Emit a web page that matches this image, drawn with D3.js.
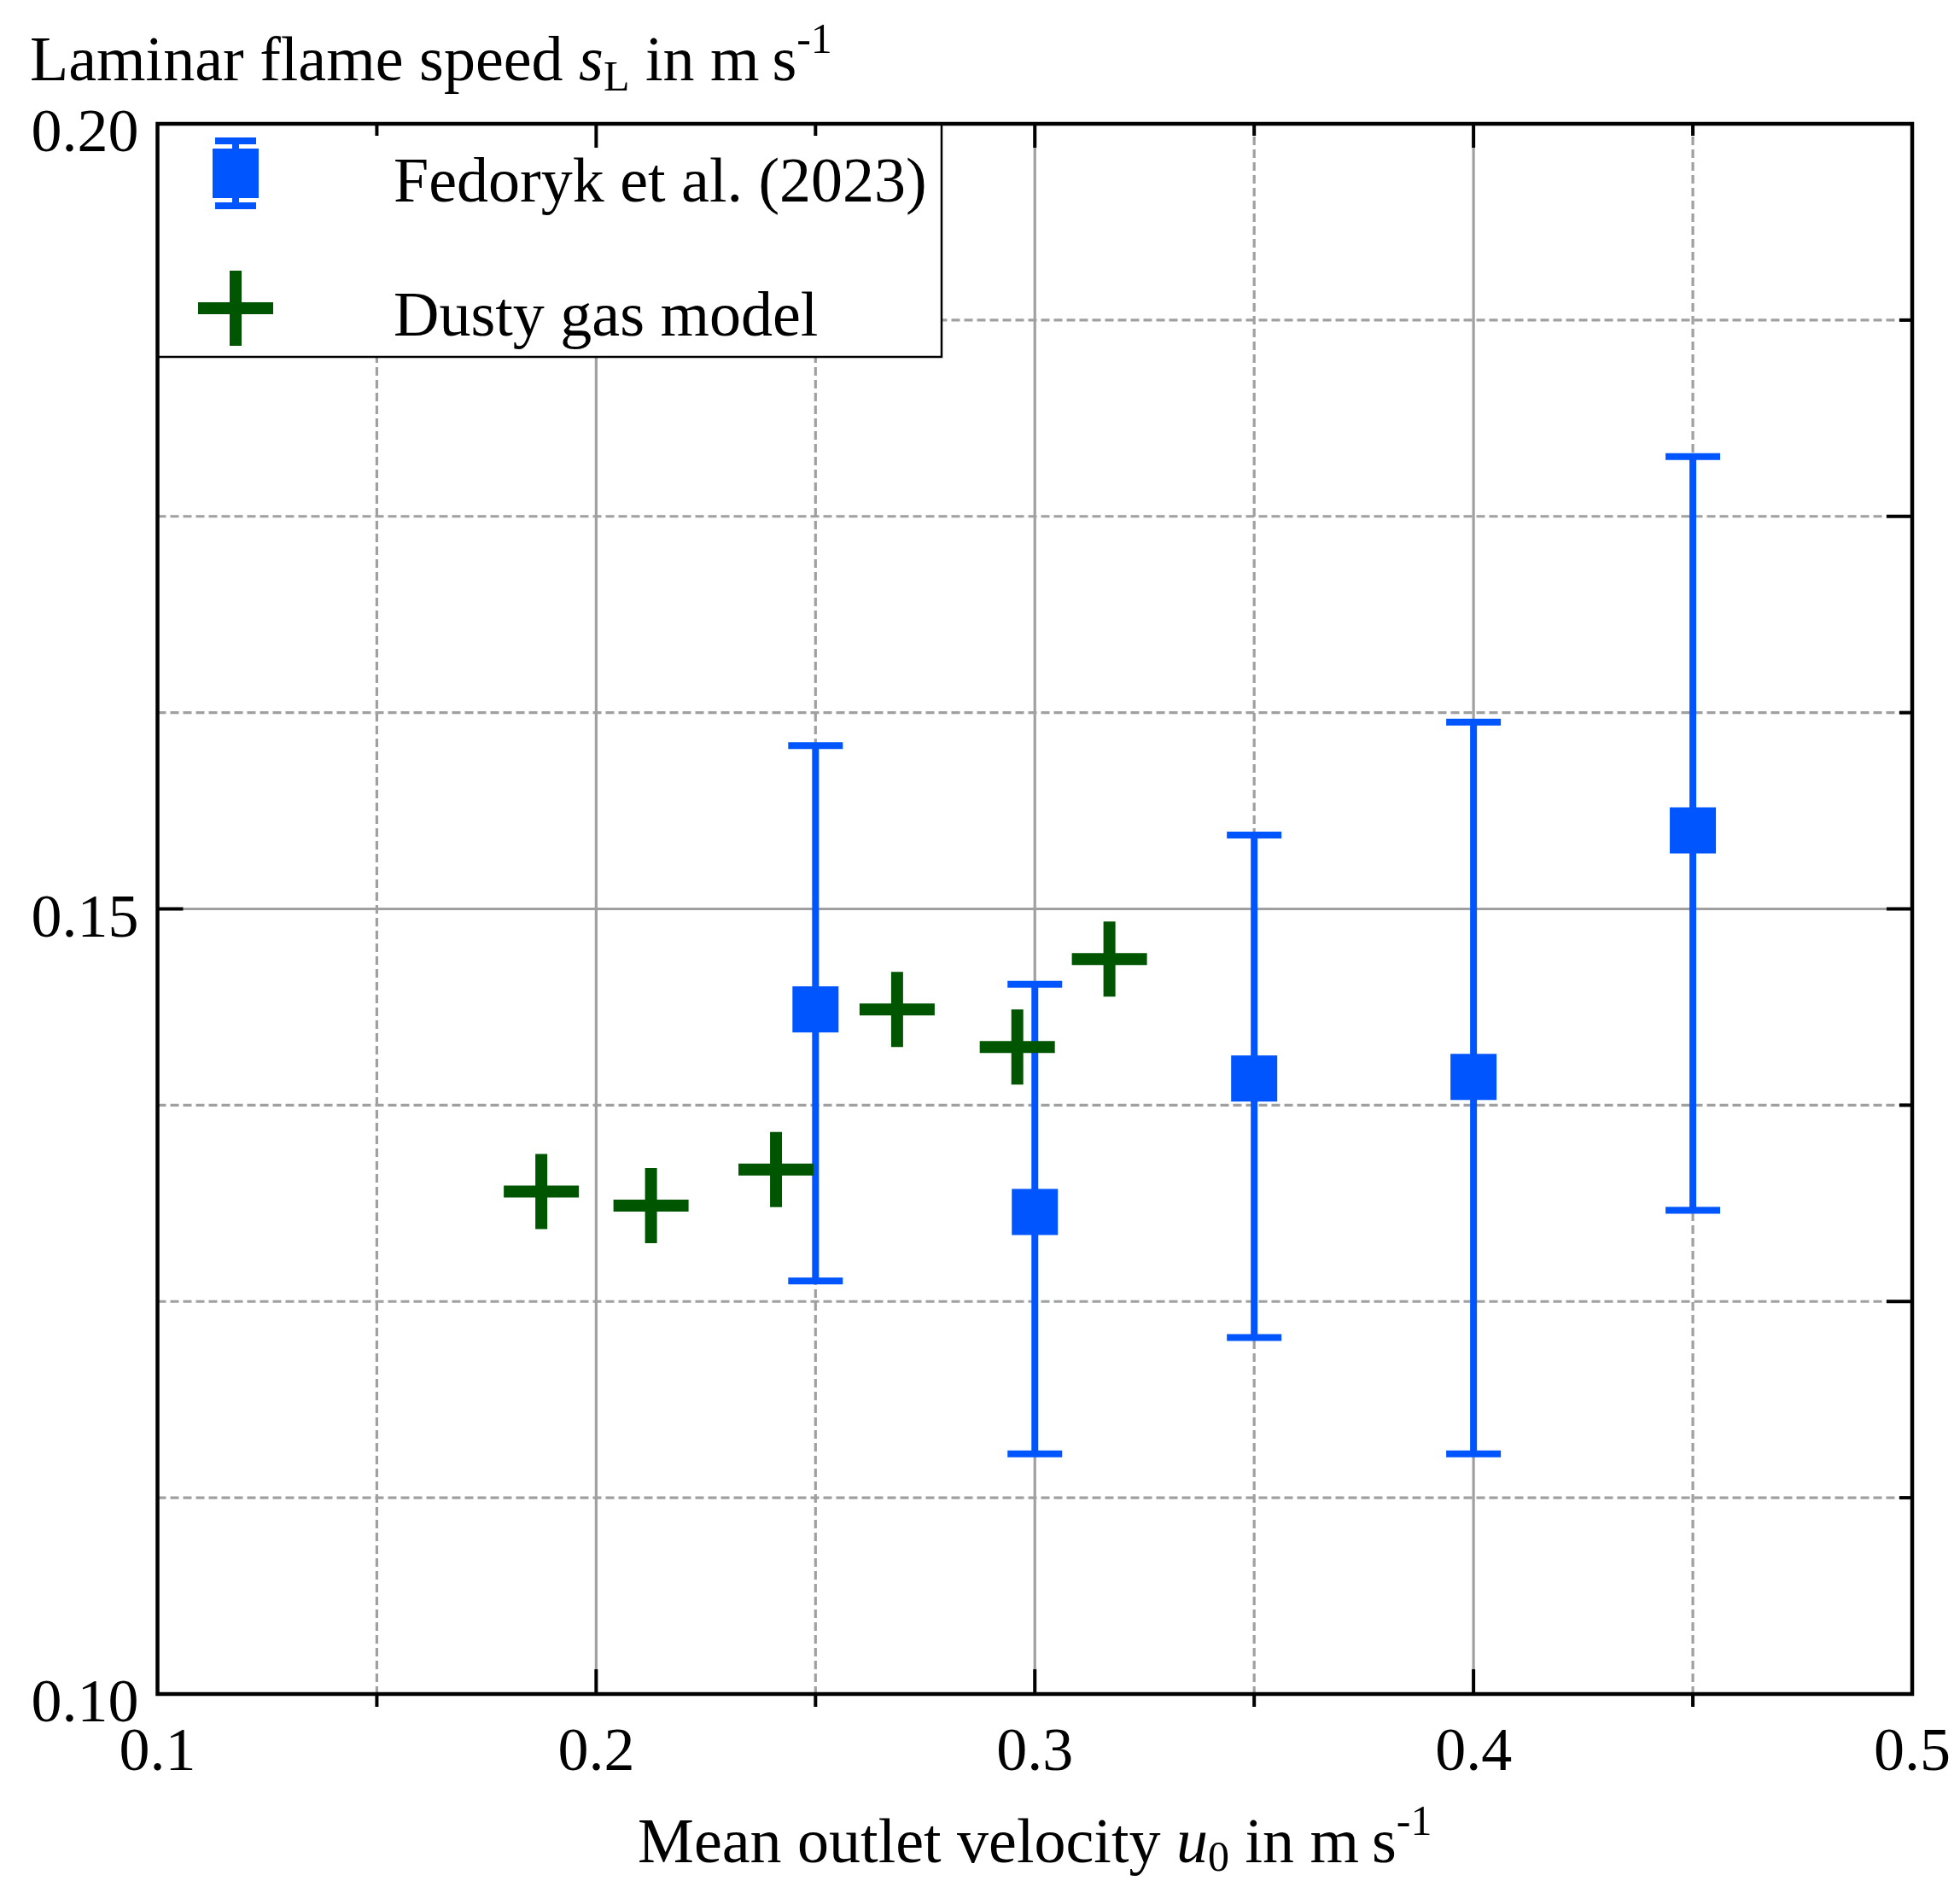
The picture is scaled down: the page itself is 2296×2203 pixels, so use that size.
<!DOCTYPE html>
<html>
<head>
<meta charset="utf-8">
<script src="https://cdn.jsdelivr.net/npm/d3@7"></script>
<style>
  html, body { margin: 0; padding: 0; background: #ffffff; }
  svg { display: block; }
  text { font-family: "Liberation Serif", "Times New Roman", serif; fill: #000; }
</style>
</head>
<body>
<script>
// ---- data ----
const expX = [0.25, 0.30, 0.35, 0.40, 0.45];
const expY = [0.1436, 0.1307, 0.1392, 0.1393, 0.1550];
const expLow = [0.1263, 0.1153, 0.1227, 0.1153, 0.1308];
const expHigh = [0.1604, 0.1452, 0.1547, 0.1619, 0.1788];

const modelX = [0.1875, 0.2125, 0.2410, 0.2686, 0.2960, 0.3170];
const modelY = [0.1320, 0.1311, 0.1334, 0.1436, 0.1412, 0.1468];

const xTickValues = [0.1, 0.2, 0.3, 0.4, 0.5];
const xTickLabels = ["0.1", "0.2", "0.3", "0.4", "0.5"];
const xMinorValues = [0.15, 0.25, 0.35, 0.45];
const yTickValues = [0.10, 0.15, 0.20];
const yTickLabels = ["0.10", "0.15", "0.20"];
const yMinorValues = [0.1125, 0.125, 0.1375, 0.1625, 0.175, 0.1875];

const legendLabels = ["Fedoryk et al. (2023)", "Dusty gas model"];

// ---- layout ----
const W = 2296, H = 2203;
const L = 184.5, R = 2240, T = 145, B = 1984;
const blue = "#0055ff", green = "#005500", gridCol = "#a0a0a0";
const fs = 72, fsT = 74, fsS = 50;

const x = d3.scaleLinear().domain([0.1, 0.5]).range([L, R]);
const y = d3.scaleLinear().domain([0.10, 0.20]).range([B, T]);

const svg = d3.select("body").append("svg").attr("width", W).attr("height", H);

// ---- grid ----
const grid = svg.append("g");
const xGridAll = xTickValues.slice(1, -1).map(v => ({v, major: true}))
  .concat(xMinorValues.map(v => ({v, major: false})));
grid.selectAll("line.gx").data(xGridAll).join("line")
  .attr("x1", d => x(d.v)).attr("x2", d => x(d.v))
  .attr("y1", T).attr("y2", B)
  .attr("stroke", gridCol).attr("stroke-width", 3.2)
  .attr("stroke-dasharray", d => d.major ? null : "10,5");
const yGridAll = [{v: 0.15, major: true}].concat(yMinorValues.map(v => ({v, major: false})));
grid.selectAll("line.gy").data(yGridAll).join("line")
  .attr("x1", L).attr("x2", R)
  .attr("y1", d => y(d.v)).attr("y2", d => y(d.v))
  .attr("stroke", gridCol).attr("stroke-width", 3.2)
  .attr("stroke-dasharray", d => d.major ? null : "10,5");

// ---- experimental data with error bars ----
const exp = expX.map((v, i) => ({x: v, y: expY[i], lo: expLow[i], hi: expHigh[i]}));
const capW = 64, sq = 54;
const eg = svg.append("g");
eg.selectAll("line.eb").data(exp).join("line")
  .attr("x1", d => x(d.x)).attr("x2", d => x(d.x))
  .attr("y1", d => y(d.lo)).attr("y2", d => y(d.hi))
  .attr("stroke", blue).attr("stroke-width", 8);
eg.selectAll("line.capH").data(exp).join("line")
  .attr("x1", d => x(d.x) - capW / 2).attr("x2", d => x(d.x) + capW / 2)
  .attr("y1", d => y(d.hi)).attr("y2", d => y(d.hi))
  .attr("stroke", blue).attr("stroke-width", 8);
eg.selectAll("line.capL").data(exp).join("line")
  .attr("x1", d => x(d.x) - capW / 2).attr("x2", d => x(d.x) + capW / 2)
  .attr("y1", d => y(d.lo)).attr("y2", d => y(d.lo))
  .attr("stroke", blue).attr("stroke-width", 8);
eg.selectAll("rect").data(exp).join("rect")
  .attr("x", d => x(d.x) - sq / 2).attr("y", d => y(d.y) - sq / 2)
  .attr("width", sq).attr("height", sq).attr("fill", blue);

// ---- model crosses ----
const mod = modelX.map((v, i) => ({x: v, y: modelY[i]}));
const arm = 44, thick = 14;
const mg = svg.append("g");
mg.selectAll("path").data(mod).join("path")
  .attr("d", d => {
    const cx = x(d.x), cy = y(d.y);
    return `M${cx - arm},${cy}H${cx + arm}M${cx},${cy - arm}V${cy + arm}`;
  })
  .attr("stroke", green).attr("stroke-width", thick).attr("fill", "none");

// ---- legend ----
const lg = svg.append("g");
const legR = 1103, legB = 418;
lg.append("rect").attr("x", L).attr("y", T).attr("width", legR - L).attr("height", legB - T)
  .attr("fill", "#fff").attr("stroke", "#000").attr("stroke-width", 2.5);
const lsx = 276, l1y = 203, l2y = 361;
lg.append("line").attr("x1", lsx).attr("x2", lsx).attr("y1", l1y - 38).attr("y2", l1y + 38)
  .attr("stroke", blue).attr("stroke-width", 8);
[l1y - 38, l1y + 38].forEach(cy => lg.append("line")
  .attr("x1", lsx - 24).attr("x2", lsx + 24).attr("y1", cy).attr("y2", cy)
  .attr("stroke", blue).attr("stroke-width", 8));
lg.append("rect").attr("x", lsx - 27).attr("y", l1y - 29).attr("width", 54).attr("height", 58).attr("fill", blue);
lg.append("path").attr("d", `M${lsx - arm},${l2y}H${lsx + arm}M${lsx},${l2y - arm}V${l2y + arm}`)
  .attr("stroke", green).attr("stroke-width", thick);
lg.append("text").attr("x", 461).attr("y", 236).attr("font-size", fsT).text(legendLabels[0]);
lg.append("text").attr("x", 461).attr("y", 393).attr("font-size", fsT).text(legendLabels[1]);

// ---- axes frame and ticks ----
const ax = svg.append("g");
ax.append("rect").attr("x", L).attr("y", T).attr("width", R - L).attr("height", B - T)
  .attr("fill", "none").attr("stroke", "#000").attr("stroke-width", 4.5);
ax.selectAll("line.bM").data(xTickValues.slice(1, -1)).join("line")
  .attr("x1", d => x(d)).attr("x2", d => x(d)).attr("y1", B).attr("y2", B - 29)
  .attr("stroke", "#000").attr("stroke-width", 4);
ax.selectAll("line.bm").data(xMinorValues).join("line")
  .attr("x1", d => x(d)).attr("x2", d => x(d)).attr("y1", B).attr("y2", B + 15)
  .attr("stroke", "#000").attr("stroke-width", 4);
ax.selectAll("line.tM").data(xTickValues.slice(1, -1)).join("line")
  .attr("x1", d => x(d)).attr("x2", d => x(d)).attr("y1", T).attr("y2", T + 28)
  .attr("stroke", "#000").attr("stroke-width", 4);
ax.selectAll("line.tm").data(xMinorValues).join("line")
  .attr("x1", d => x(d)).attr("x2", d => x(d)).attr("y1", T).attr("y2", T + 14)
  .attr("stroke", "#000").attr("stroke-width", 4);
ax.selectAll("line.lM").data([0.15]).join("line")
  .attr("x1", L).attr("x2", L + 30).attr("y1", d => y(d)).attr("y2", d => y(d))
  .attr("stroke", "#000").attr("stroke-width", 4);
const rightTicks = [0.15].concat(yMinorValues);
ax.selectAll("line.rt").data(rightTicks).join("line")
  .attr("x1", R).attr("x2", d => R - (Math.abs(Math.round(d / 0.025) * 0.025 - d) < 1e-6 ? 30 : 15))
  .attr("y1", d => y(d)).attr("y2", d => y(d))
  .attr("stroke", "#000").attr("stroke-width", 4);

// tick labels
ax.selectAll("text.xl").data(xTickValues).join("text")
  .attr("x", d => x(d)).attr("y", B + 89).attr("text-anchor", "middle")
  .attr("font-size", fs).text((d, i) => xTickLabels[i]);
ax.selectAll("text.yl").data(yTickValues).join("text")
  .attr("x", L - 22).attr("y", d => y(d) + 32).attr("text-anchor", "end")
  .attr("font-size", fs).text((d, i) => yTickLabels[i]);

// axis titles
const yt = svg.append("text").attr("x", 35).attr("y", 94).attr("font-size", fsT);
yt.append("tspan").text("Laminar flame speed ");
yt.append("tspan").attr("font-style", "italic").text("s");
yt.append("tspan").attr("font-size", fsS).attr("dy", 12).text("L");
yt.append("tspan").attr("dy", -12).text(" in m\u2009s");
yt.append("tspan").attr("font-size", fsS).attr("dy", -32).text("-1");

const xt = svg.append("text").attr("x", (L + R) / 2).attr("y", 2181).attr("text-anchor", "middle").attr("font-size", fsT);
xt.append("tspan").text("Mean outlet velocity ");
xt.append("tspan").attr("font-style", "italic").text("u");
xt.append("tspan").attr("font-size", fsS).attr("dy", 10).text("0");
xt.append("tspan").attr("dy", -10).text(" in m\u2009s");
xt.append("tspan").attr("font-size", fsS).attr("dy", -32).text("-1");
</script>
</body>
</html>
